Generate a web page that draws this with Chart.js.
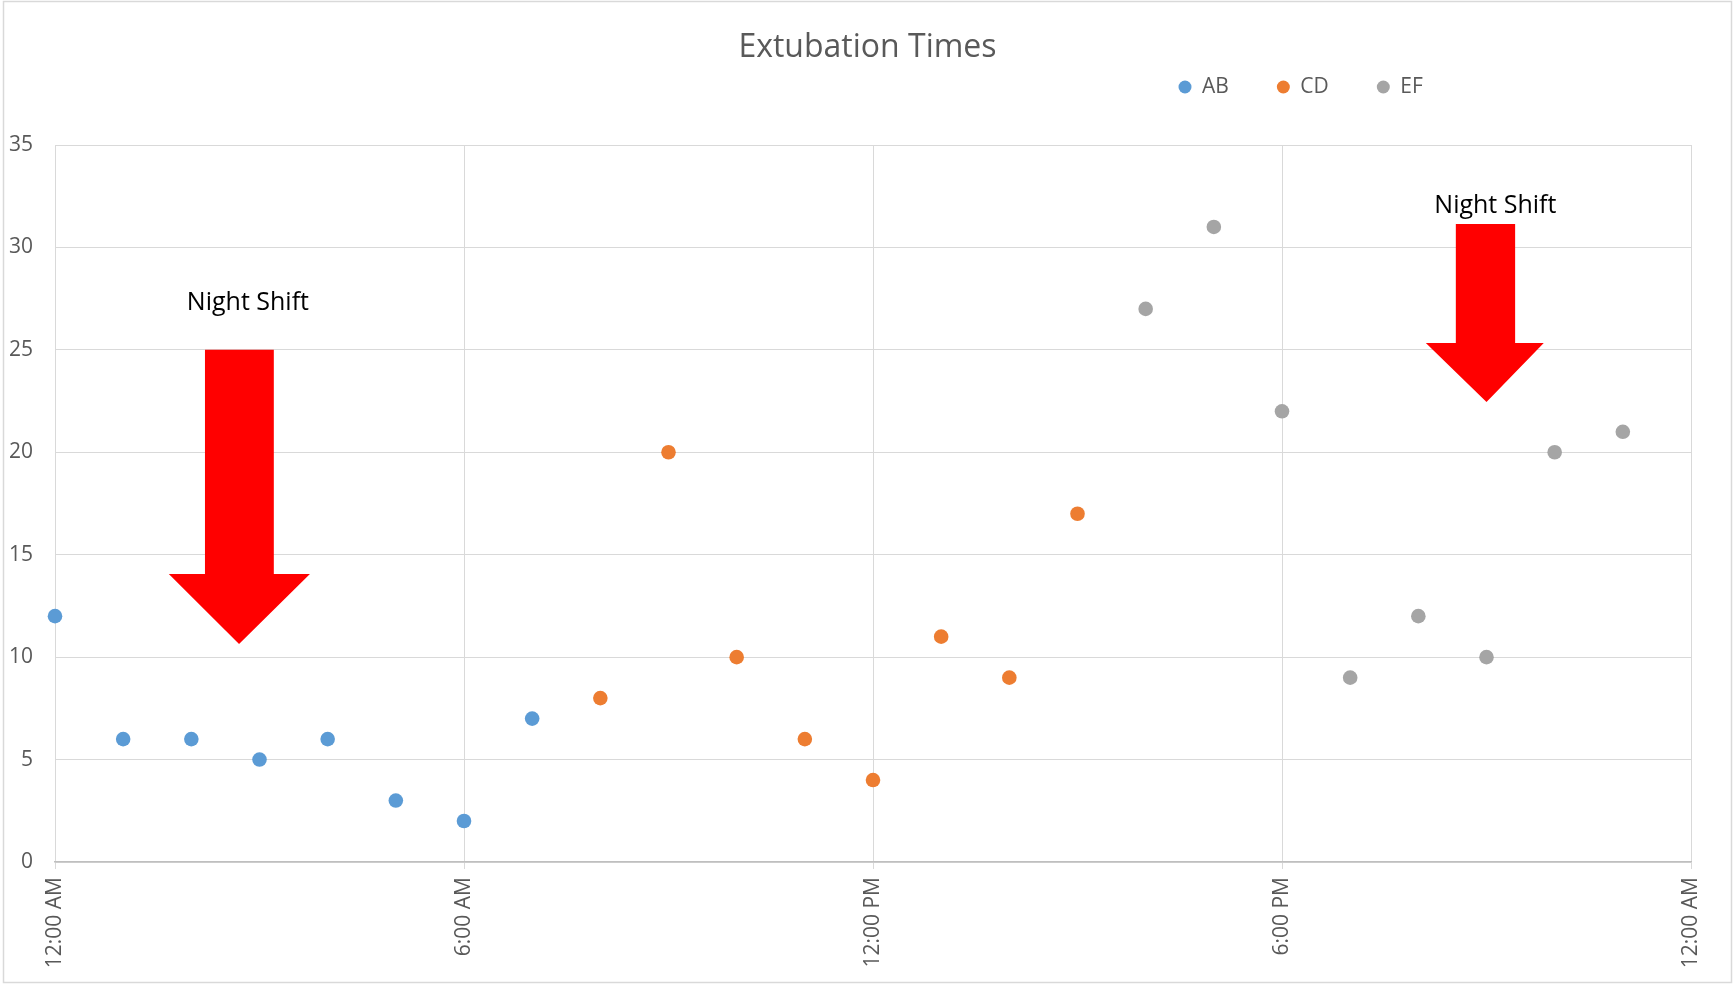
<!DOCTYPE html>
<html>
<head>
<meta charset="utf-8">
<script src="https://cdn.jsdelivr.net/npm/chart.js@4/dist/chart.umd.min.js"></script>
<style>
  html, body { margin: 0; padding: 0; background: #ffffff; }
  #wrap { width: 1735px; height: 984px; position: relative; }
</style>
</head>
<body>
<div id="wrap"><canvas id="c"></canvas></div>
<script>
// ---- data (hours after midnight, minutes) ----
const timeTickLabels = ['12:00 AM', '6:00 AM', '12:00 PM', '6:00 PM', '12:00 AM'];
const abHours  = [0, 1, 2, 3, 4, 5, 6, 7];
const abValues = [12, 6, 6, 5, 6, 3, 2, 7];
const cdHours  = [8, 9, 10, 11, 12, 13, 14, 15];
const cdValues = [8, 20, 10, 6, 4, 11, 9, 17];
const efHours  = [16, 17, 18, 19, 20, 21, 22, 23];
const efValues = [27, 31, 22, 9, 12, 10, 20, 21];

// annotations in data units: [shaftLeft, shaftRight, shaftTop, headBase, headLeft, headRight, tipX, tipY]
const leftArrow  = [2.20, 3.21, 25.0, 14.06, 1.67, 3.74, 2.70, 10.64];
const rightArrow = [20.55, 21.42, 31.14, 25.33, 20.11, 21.84, 21.0, 22.45];
const noteText = 'Night Shift';
const leftNote  = [2.83, 26.95];
const rightNote = [21.13, 31.68];

function pts(xs, ys) { return xs.map((x, i) => ({ x: x, y: ys[i] })); }

const FONT = '"Open Sans", "Liberation Sans", sans-serif';

const frame = {
  id: 'frame',
  beforeDraw(chart) {
    const ctx = chart.ctx;
    ctx.save();
    ctx.fillStyle = '#ffffff';
    ctx.fillRect(0, 0, chart.width, chart.height);
    ctx.strokeStyle = '#D9D9D9';
    ctx.lineWidth = 1.5;
    ctx.strokeRect(3.5, 1.5, chart.width - 7, chart.height - 3);
    ctx.restore();
  }
};

const boxPlace = {
  id: 'boxPlace',
  afterLayout(chart) {
    const lg = chart.legend;
    if (lg) { lg.left = 1130.5; lg.top = 28.5; }
    const tb = chart.titleBlock;
    if (tb) { tb.left = 0; tb.right = chart.width; tb.top += 3; tb.bottom += 3; }
  }
};

function drawArrow(ctx, xs, ys, a) {
  const X = v => xs.getPixelForValue(v), Y = v => ys.getPixelForValue(v);
  ctx.beginPath();
  ctx.moveTo(X(a[0]), Y(a[2]));
  ctx.lineTo(X(a[1]), Y(a[2]));
  ctx.lineTo(X(a[1]), Y(a[3]));
  ctx.lineTo(X(a[5]), Y(a[3]));
  ctx.lineTo(X(a[6]), Y(a[7]));
  ctx.lineTo(X(a[4]), Y(a[3]));
  ctx.lineTo(X(a[0]), Y(a[3]));
  ctx.closePath();
  ctx.fill();
}

const notes = {
  id: 'notes',
  afterDatasetsDraw(chart) {
    const ctx = chart.ctx, xs = chart.scales.x, ys = chart.scales.y;
    ctx.save();
    ctx.fillStyle = '#FF0000';
    drawArrow(ctx, xs, ys, leftArrow);
    drawArrow(ctx, xs, ys, rightArrow);
    ctx.fillStyle = '#000000';
    ctx.font = '25px ' + FONT;
    ctx.textAlign = 'center';
    ctx.textBaseline = 'alphabetic';
    ctx.fillText(noteText, xs.getPixelForValue(leftNote[0]), ys.getPixelForValue(leftNote[1]));
    ctx.fillText(noteText, xs.getPixelForValue(rightNote[0]), ys.getPixelForValue(rightNote[1]));
    ctx.restore();
  }
};

const gridColor = '#D9D9D9';
const textColor = '#595959';

new Chart(document.getElementById('c'), {
  type: 'scatter',
  data: {
    datasets: [
      { label: 'AB', data: pts(abHours, abValues), backgroundColor: '#5B9BD5', borderColor: '#5B9BD5',
        pointRadius: 7.3, pointHoverRadius: 7.3, pointBorderWidth: 0, borderWidth: 0, clip: false },
      { label: 'CD', data: pts(cdHours, cdValues), backgroundColor: '#ED7D31', borderColor: '#ED7D31',
        pointRadius: 7.3, pointHoverRadius: 7.3, pointBorderWidth: 0, borderWidth: 0, clip: false },
      { label: 'EF', data: pts(efHours, efValues), backgroundColor: '#A5A5A5', borderColor: '#A5A5A5',
        pointRadius: 7.3, pointHoverRadius: 7.3, pointBorderWidth: 0, borderWidth: 0, clip: false }
    ]
  },
  options: {
    responsive: true,
    maintainAspectRatio: false,
    animation: false,
    layout: { padding: { top: 0, left: 0, right: 44, bottom: 0 } },
    plugins: {
      title: {
        display: true,
        text: 'Extubation Times',
        color: textColor,
        font: { family: FONT, size: 32, weight: 'normal' },
        padding: { top: 26, bottom: 1.6 }
      },
      legend: {
        display: true,
        position: 'top',
        align: 'start',
        labels: {
          usePointStyle: true,
          pointStyle: 'circle',
          boxHeight: 9.2,
          pointStyleWidth: 13,
          padding: 48,
          color: textColor,
          font: { family: FONT, size: 21 }
        }
      },
      tooltip: { enabled: false }
    },
    scales: {
      x: {
        type: 'linear',
        min: 0, max: 24,
        afterFit(scale) { scale.height = 122; },
        ticks: {
          stepSize: 6,
          minRotation: 90, maxRotation: 90,
          padding: 8,
          color: textColor,
          font: { family: FONT, size: 21 },
          callback: (v) => timeTickLabels[Math.round(v / 6)]
        },
        grid: { color: gridColor, lineWidth: 1, tickLength: 7, drawTicks: true },
        border: { display: true, color: '#BFBFBF', width: 1.5 }
      },
      y: {
        min: 0, max: 35,
        afterFit(scale) { scale.width = 55; },
        ticks: {
          stepSize: 5,
          padding: 22,
          color: textColor,
          font: { family: FONT, size: 21 }
        },
        grid: { color: gridColor, lineWidth: 1, drawTicks: false },
        border: { display: false }
      }
    }
  },
  plugins: [frame, boxPlace, notes]
});
</script>
</body>
</html>
